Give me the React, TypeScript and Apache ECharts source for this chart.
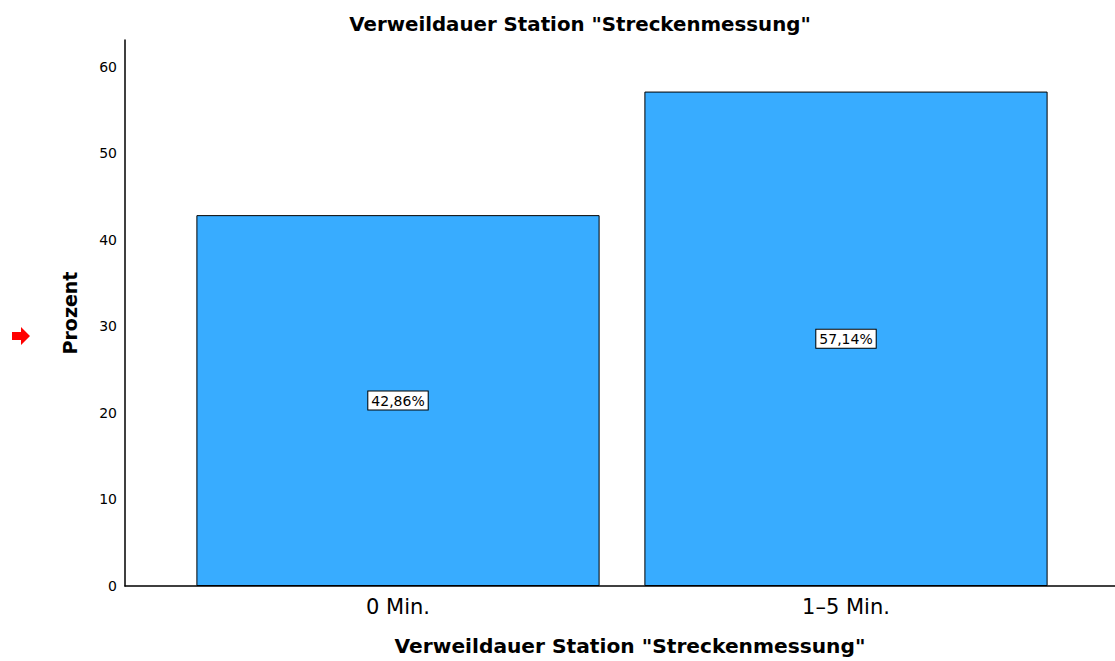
import React, { useEffect, useRef } from "react";
import * as echarts from "echarts";

const title = 'Verweildauer Station "Streckenmessung"';
const categories = ["0 Min.", "1–5 Min."];
const percentValues = [42.86, 57.14];
const yTicks = [0, 10, 20, 30, 40, 50, 60];
const yMax = 63.1;
const yAxisName = "Prozent";
const xAxisName = 'Verweildauer Station "Streckenmessung"';

const FONT = "DejaVu Sans";

export default function App() {
  const ref = useRef<HTMLDivElement>(null);
  useEffect(() => {
    if (!ref.current) return;
    const chart = echarts.init(ref.current, null, { renderer: "svg" });
    chart.setOption({
      animation: false,
      backgroundColor: "#ffffff",
      textStyle: { fontFamily: FONT },
      title: {
        text: title,
        left: 575,
        top: 9,
        textAlign: "center",
        textStyle: { fontFamily: FONT, fontSize: 19.8, fontWeight: "bold", color: "#000" },
      },
      grid: [
        { left: 125, right: 0, top: 40, bottom: 75 },
        { left: 174, right: 45, top: 40, bottom: 75 },
      ],
      xAxis: [
        {
          type: "value",
          gridIndex: 0,
          min: 0,
          max: 1,
          axisLine: { show: true, onZero: false, lineStyle: { color: "#000", width: 1.5 } },
          axisTick: { show: false },
          axisLabel: { show: false },
          splitLine: { show: false },
        },
        {
          type: "category",
          gridIndex: 1,
          data: categories,
          axisLine: { show: false },
          axisTick: { show: false },
          axisLabel: { fontFamily: FONT, fontSize: 21, color: "#000", margin: 10 },
          name: xAxisName,
          nameLocation: "middle",
          nameGap: 50,
          nameTextStyle: {
            fontFamily: FONT,
            fontSize: 20.2,
            fontWeight: "bold",
            color: "#000",
            padding: [0, 0, 0, 16],
          },
        },
      ],
      yAxis: [
        {
          type: "value",
          gridIndex: 0,
          min: 0,
          max: yMax,
          interval: 10,
          axisLine: { show: true, lineStyle: { color: "#000", width: 1.5 } },
          axisTick: { show: false },
          splitLine: { show: false },
          axisLabel: {
            fontFamily: FONT,
            fontSize: 14,
            color: "#000",
            margin: 8,
            formatter: (v: number) => (yTicks.includes(Math.round(v * 100) / 100) ? String(v) : ""),
          },
          name: yAxisName,
          nameLocation: "middle",
          nameGap: 46,
          nameTextStyle: { fontFamily: FONT, fontSize: 19, fontWeight: "bold", color: "#000" },
        },
        {
          type: "value",
          gridIndex: 1,
          min: 0,
          max: yMax,
          show: false,
          splitLine: { show: false },
        },
      ],
      series: [
        {
          type: "bar",
          xAxisIndex: 1,
          yAxisIndex: 1,
          data: percentValues,
          barCategoryGap: "10%",
          itemStyle: { color: "#38acff", borderColor: "#000", borderWidth: 1 },
          label: {
            show: true,
            position: "inside",
            fontFamily: FONT,
            fontSize: 14,
            color: "#000",
            backgroundColor: "#fff",
            borderColor: "#000",
            borderWidth: 1,
            padding: [2, 3],
            formatter: (p: any) => p.value.toFixed(2).replace(".", ",") + "%",
          },
        },
      ],
      graphic: [
        {
          type: "polygon",
          shape: {
            points: [
              [12, 332],
              [21, 332],
              [21, 327],
              [30, 336],
              [21, 345],
              [21, 340],
              [12, 340],
            ],
          },
          style: { fill: "#ff0000" },
        },
      ],
    });
    return () => chart.dispose();
  }, []);
  return (
    <div
      ref={ref}
      style={{ position: "fixed", left: 0, top: 0, width: 1115, height: 661, background: "#fff" }}
    />
  );
}
